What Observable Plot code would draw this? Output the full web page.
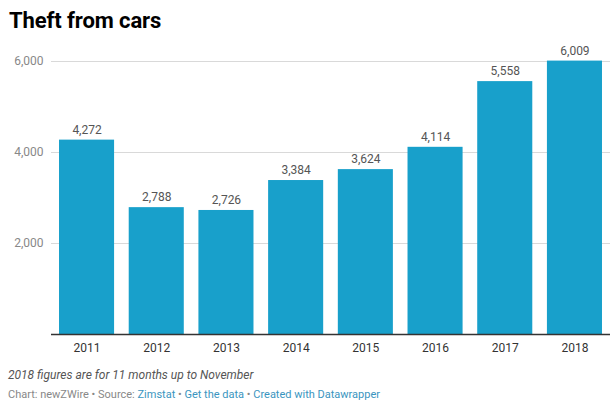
<!DOCTYPE html>
<html>
<head>
<meta charset="utf-8">
<script src="https://cdn.jsdelivr.net/npm/d3@7"></script>
<script src="https://cdn.jsdelivr.net/npm/@observablehq/plot@0.6"></script>
<style>
  body { margin: 0; background: #fff; font-family: Roboto, "Noto Sans", sans-serif; }
  #wrap { width: 614px; position: relative; }
  h1 { margin: 0; padding: 8px 0 0 9px; font-size: 22px; font-weight: 700; color: #000; height: 32px; letter-spacing: -0.1px; }
  .note { font-style: italic; font-size: 12px; color: #555; padding-left: 8px; margin-top: 6px; }
  .credit { font-size: 11px; color: #888; padding-left: 8px; margin-top: 6px; }
  .credit a { color: #3a95c0; text-decoration: none; }
  svg text { font-family: Roboto, "Noto Sans", sans-serif; }
</style>
</head>
<body>
<div id="wrap">
  <h1>Theft from cars</h1>
  <div id="chart"></div>
  <div class="note">2018 figures are for 11 months up to November</div>
  <div class="credit">Chart: newZWire • Source: <a>Zimstat</a> • <a>Get the data</a> • <a>Created with Datawrapper</a></div>
</div>
<script>
const years = ["2011","2012","2013","2014","2015","2016","2017","2018"];
const thefts = [4272, 2788, 2726, 3384, 3624, 4114, 5558, 6009];
const yTicks = [2000, 4000, 6000];

const data = years.map((y, i) => ({year: y, value: thefts[i]}));
const fmt = d3.format(",");

const chart = Plot.plot({
  width: 614,
  height: 322,
  marginTop: 21,
  marginBottom: 28,
  marginLeft: 51,
  marginRight: 4,
  style: {fontFamily: "Roboto, 'Noto Sans', sans-serif", fontSize: "12px", background: "#fff"},
  x: {domain: years, paddingInner: 0.21, paddingOuter: 0.115, round: false, label: null, tickSize: 0, tickPadding: 8},
  y: {domain: [0, 6000], label: null, ticks: yTicks, tickFormat: fmt},
  marks: [
    Plot.gridY(yTicks, {stroke: "#d9d9d9", strokeOpacity: 1}),
    Plot.axisY(yTicks, {tickSize: 0, tickPadding: 8, tickFormat: fmt, fill: "#888", fontSize: 12, label: null}),
    Plot.axisX({tickSize: 0, tickPadding: 9, fill: "#333", fontSize: 12, label: null}),
    Plot.barY(data, {x: "year", y: "value", fill: "#18a0cb"}),
    Plot.text(data, {x: "year", y: "value", text: d => fmt(d.value), dy: -10, fill: "#555", fontSize: 12}),
    Plot.ruleY([0], {stroke: "#333", strokeWidth: 1.3})
  ]
});
document.getElementById("chart").appendChild(chart);
</script>
</body>
</html>
